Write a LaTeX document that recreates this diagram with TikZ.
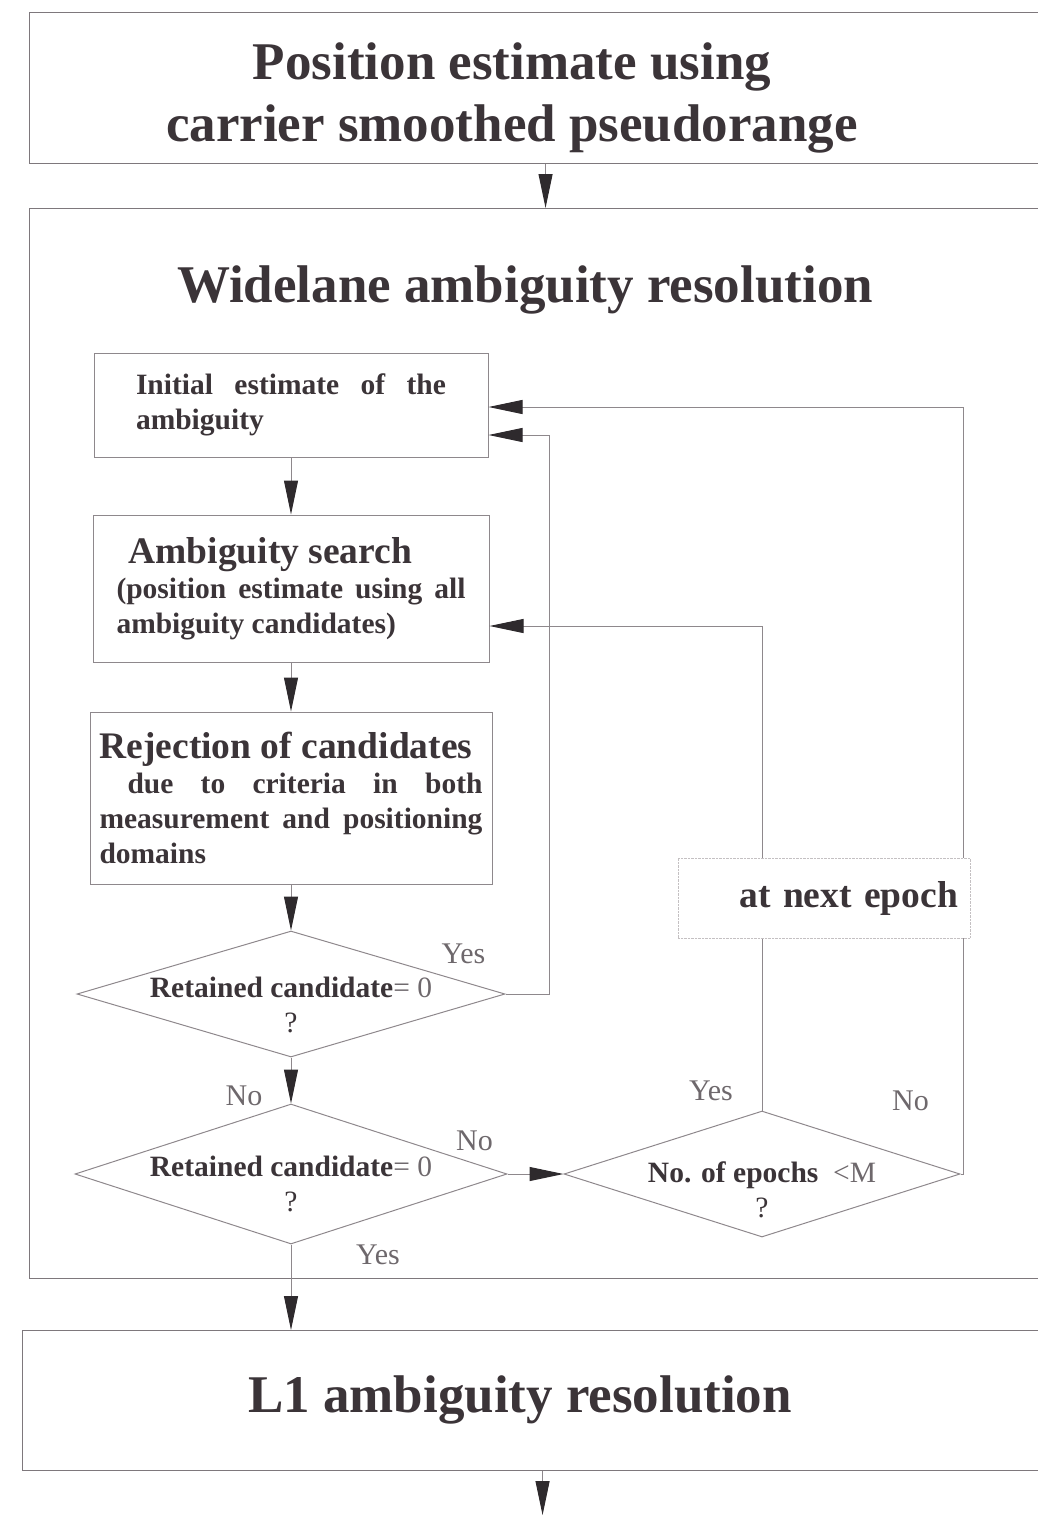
\documentclass[tikz,border=0pt]{standalone}
\usepackage{fontspec}
\setmainfont{Liberation Serif}
\usetikzlibrary{positioning, arrows.meta, shapes.geometric}
\definecolor{textdark}{HTML}{3B3438}
\definecolor{linegray}{HTML}{8E888C}
\definecolor{panelline}{HTML}{7E787C}
\definecolor{tipdark}{HTML}{2E2A2D}
\definecolor{answergray}{HTML}{6E686C}
\definecolor{dotline}{HTML}{C4C0C2}
\newcommand{\fbig}{\fontsize{53}{62}\selectfont\bfseries}
\newcommand{\fhead}{\fontsize{37.5}{40}\selectfont\bfseries}
\newcommand{\fbody}{\fontsize{29.5}{35}\selectfont\bfseries}
\newcommand{\fanswer}{\fontsize{30}{35}\selectfont\mdseries}

\begin{document}
\begin{tikzpicture}[
  x=1pt, y=-1pt,
  text=textdark,
  panel/.style   = {draw=panelline, line width=1.1pt, minimum width=1032pt, anchor=north west, inner sep=0pt},
  big/.style     = {font=\fbig, align=center, inner sep=0pt},
  box/.style     = {draw=linegray, line width=1pt, font=\fbody, align=justify, inner sep=0pt},
  decide/.style  = {diamond, draw=linegray, line width=1pt, inner sep=0pt},
  dtext/.style   = {font=\fbody, align=center},
  answer/.style  = {font=\fanswer, text=answergray, inner sep=0pt},
  nextbox/.style = {draw=dotline, densely dotted, fill=white, font=\fhead, text width=268pt,
                    align=right, inner xsep=12pt, minimum height=80pt},
  flow/.style    = {draw=linegray, line width=1pt, -{Triangle[length=34pt, width=14pt, color=tipdark]}},
]
\useasboundingbox (0,0) rectangle (1038,1516);
\clip (0,0) rectangle (1038,1516);

%% ---------------------------------------------------------------- panels
\node[panel, minimum height=151pt]  (pbox) at (29,12) {};
\node[panel, minimum height=1070pt] (wbox) at (29,208) {};
\node[panel, minimum height=140pt, minimum width=1040pt] (lbox) at (22,1330) {};

\node[big] (ptitle) at (512,98)  {Position estimate using\\carrier smoothed pseudorange};
\node[big] (wtitle) at (525,290) {Widelane ambiguity resolution};
\node[big] (ltitle) at (520,1400) {L1 ambiguity resolution};

%% ---------------------------------------------------------------- widelane steps
\node[box, minimum width=394pt, minimum height=104pt, text width=310pt] (init) at (291,405)
  {Initial estimate of the\linebreak ambiguity};
\node[box, below=57pt of init, minimum width=396pt, minimum height=147pt, text width=349pt] (search)
  {\hspace*{12pt}{\fhead Ambiguity search}\\(position estimate using all\linebreak ambiguity candidates)};
\node[box, below=49pt of search, minimum width=402pt, minimum height=172pt, text width=383pt] (reject)
  {{\fhead Rejection of candidates}\\\hspace*{28pt}due to criteria in both\linebreak
   measurement and positioning\linebreak domains};

\node[decide, below=46pt of reject, minimum width=428pt, minimum height=126pt,
      label={[dtext, yshift=-11pt]center:{Retained candidate{\mdseries\color{answergray}= 0}\\{\mdseries ?}}}] (d1) {};
\node[decide, below=46pt of d1, minimum width=432pt, minimum height=140pt,
      label={[dtext, yshift=-10pt]center:{Retained candidate{\mdseries\color{answergray}= 0}\\{\mdseries ?}}}] (d2) {};
\node[decide, right=56pt of d2, minimum width=396pt, minimum height=126pt,
      label={[dtext, yshift=-16pt]center:{No. of epochs\ \ {\mdseries\color{answergray}<M}\\{\mdseries ?}}}] (d3) {};

%% ---------------------------------------------------------------- connectors
\coordinate[below=44pt of lbox.south] (lend);
\draw[flow] (pbox) -- (wbox);
\draw[flow] (init) -- (search);
\draw[flow] (search) -- (reject);
\draw[flow] (reject) -- (d1);
\draw[flow] (d1) -- (d2);
\draw[flow] (d2) -- (d3);
\draw[flow] (d2) -- (d2 |- lbox.north);
\draw[flow] (lbox) -- (lend);

\draw[flow] (d1.east) -- ++(44,0) |- ([yshift=-30pt]init.east);
\draw[flow] (d3.north) |- ([yshift=-37.5pt]search.east);
\draw[flow] (d3.east) -- ++(3,0) |- ([yshift=-2pt]init.east);

\node[nextbox] (nextep) at (824,898) {at next epoch};

%% ---------------------------------------------------------------- answers
\node[answer] (yes1) at ([xshift=-42pt, yshift=40pt]d1.east)  {Yes};
\node[answer] (no1)  at ([xshift=-47pt, yshift=-38pt]d1.south) {No};
\node[answer] (no2)  at ([xshift=-33pt, yshift=33pt]d2.east)  {No};
\node[answer] (yes2) at ([xshift=87pt, yshift=-10pt]d2.south) {Yes};
\node[answer] (yes3) at ([xshift=-51pt, yshift=20pt]d3.north) {Yes};
\node[answer] (no3)  at ([xshift=-50pt, yshift=73pt]d3.east)  {No};
\end{tikzpicture}
\end{document}
